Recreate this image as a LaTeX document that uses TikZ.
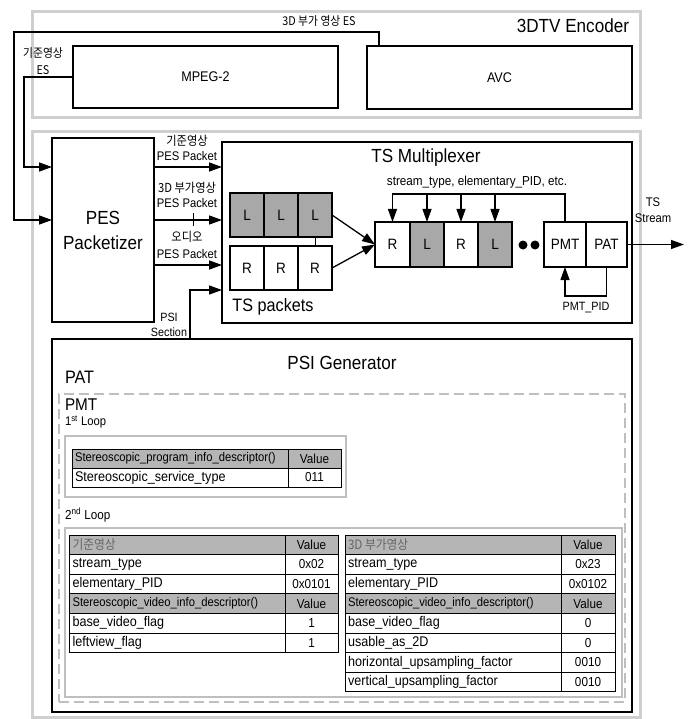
\documentclass[tikz,border=0pt]{standalone}
\usepackage{fontspec}
\setmainfont{Liberation Sans}[FakeStretch=0.9]
\newfontfamily\kr{Noto Sans CJK KR}[FakeStretch=0.9]
\usetikzlibrary{arrows.meta}
\newcommand{\fz}[1]{\fontsize{#1}{#1}\selectfont}
\newcommand{\tabrow}[9]{%
  \node[cell,#6,minimum width=#4] (#1a) at (#2,#3) {};
  \node[anchor=west,font=\fz{#9}] (#1t) at ([xshift=3pt]#1a.west) {#7};
  \node[cell,#6,minimum width=#5,font=\fz{13}] (#1b) at (#2+#4,#3) {#8};
}
\begin{document}
\begin{tikzpicture}[x=1pt,y=-1pt,
  every node/.style={inner sep=0pt,outer sep=0pt},
  gframe/.style={draw=gray!38,line width=3pt},
  gbox/.style={draw=gray!50,line width=2pt},
  dbox/.style={draw=gray!50,line width=2pt,dash pattern=on 10pt off 5pt},
  blk/.style={draw=black,line width=1.3pt},
  arr/.style={line width=1.3pt,-{Triangle[length=13pt,width=9pt]}},
  cell/.style={draw=black,line width=1pt,minimum height=19.6pt,anchor=north west},
  hd/.style={fill=gray!58},
  pkt/.style={blk,minimum width=34pt,minimum height=44pt,anchor=north west,font=\fz{15}},
  dark/.style={fill=gray!68},
]
\useasboundingbox (0,0) rectangle (693,719);

% gray frames
\node[gframe,minimum width=608,minimum height=106,anchor=north west] (encf) at (32,12) {};
\node[gframe,minimum width=608,minimum height=585,anchor=north west] (sysf) at (32,132) {};

% ---------- encoder ----------
\node[anchor=east,font=\fz{19}] (enct) at (629,26) {3DTV Encoder};
\node[blk,minimum width=265,minimum height=62,anchor=north west,font=\fz{14}] (mpeg) at (73,46) {MPEG-2};
\node[blk,minimum width=265,minimum height=63,anchor=north west,font=\fz{14}] (avc) at (367,46) {AVC};
\node[font=\kr\fz{12}] (l3des) at (319,21) {3D 부가 영상 ES};
\node[align=center,font=\kr\fontsize{12}{17}\selectfont] (lbasees) at (43,61.5) {기준영상\\ES};

% ---------- PES packetizer ----------
\node[blk,minimum width=102,minimum height=184,anchor=north west,align=center,font=\fontsize{19}{25}\selectfont] (pes) at (52,138) {PES\\Packetizer};

\coordinate (t1) at (379,32);
\coordinate (c3) at (14,220);
\coordinate (c4) at (24,167);
\draw[arr] (t1 |- avc.north) -- (t1) -| (c3) -- (c3 -| pes.west);
\draw[arr] (mpeg.west) -| (c4) -- (c4 -| pes.west);

% ---------- TS multiplexer ----------
\node[blk,minimum width=410,minimum height=181,anchor=north west] (mux) at (222,142) {};
\node[font=\fz{19}] (muxt) at (426,158) {TS Multiplexer};

\coordinate (ya) at (0,265);
\draw[arr] (pes.east |- c4) -- (mux.west |- c4);
\draw[arr] (pes.east |- c3) -- (mux.west |- c3);
\draw[arr] (pes.east |- ya) -- (mux.west |- ya);
\draw[line width=1pt] (193,213) -- (193,226);

\node[align=center,font=\fontsize{12.5}{15}\selectfont] (lp1) at (187,147.5) {{\kr 기준영상}\\PES Packet};
\node[align=center,font=\fontsize{12.5}{15}\selectfont] (lp2) at (187,194.5) {{\kr 3D 부가영상}\\PES Packet};
\node[align=center,font=\fontsize{12.5}{17}\selectfont] (lp3) at (187,244.5) {{\kr 오디오}\\PES Packet};

% TS packets
\node[pkt,dark] (L1) at (230,193) {L};
\node[pkt,dark] (L2) at (264,193) {L};
\node[pkt,dark] (L3) at (298,193) {L};
\node[pkt] (R1) at (230,246) {R};
\node[pkt] (R2) at (264,246) {R};
\node[pkt] (R3) at (298,246) {R};
\draw[line width=1pt] (L3.south) -- (R3.north);
\node[font=\fz{18}] (tsp) at (273,307) {TS packets};

% multiplexed stream
\node[pkt,minimum height=45,minimum width=35] (C1) at (375,222) {R};
\node[pkt,dark,minimum height=45] (C2) at (410,222) {L};
\node[pkt,minimum height=45] (C3) at (444,222) {R};
\node[pkt,dark,minimum height=45] (C4) at (478,222) {L};
\node[circle,fill=black,minimum size=9pt] (d1) at (523,245) {};
\node[circle,fill=black,minimum size=9pt] (d2) at (535,245) {};
\node[pkt,minimum height=45,minimum width=42] (PMT) at (544,222) {PMT};
\node[pkt,minimum height=45,minimum width=41] (PAT) at (586,222) {PAT};

\draw[arr] (L3.east) -- (C1.west);
\draw[arr] (R3.east) -- (C1.west);

\coordinate (busy) at (0,194);
\draw[arr] (PMT.north) -- (PMT.north |- busy) -| (C1.north);
\draw[arr] (C2.north |- busy) -- (C2.north);
\draw[arr] (C3.north |- busy) -- (C3.north);
\draw[arr] (C4.north |- busy) -- (C4.north);
\node[font=\fz{13}] (lst) at (477,182) {stream\_type, elementary\_PID, etc.};

\coordinate (py) at (0,296);
\draw[arr] (PAT.south) -- (PAT.south |- py) -| (PMT.south);
\node[font=\fz{12}] (lpid) at (586,308) {PMT\_PID};

\coordinate (tsend) at (684,244.5);
\draw[arr] (PAT.east) -- (tsend);
\node[align=center,font=\fontsize{12.5}{16}\selectfont] (lts) at (653,210) {TS\\Stream};

% ---------- PSI generator ----------
\node[blk,minimum width=580,minimum height=373,anchor=north west] (psi) at (52,339) {};
\node[font=\fz{19}] (psit) at (342,363) {PSI Generator};
\coordinate (ps) at (190,290);
\draw[arr] (psi.north -| ps) -- (ps) -- (ps -| mux.west);
\node[align=center,font=\fontsize{12}{15}\selectfont] (lpsi) at (169,324.5) {PSI\\Section};

\node[dbox,minimum width=566,minimum height=308,anchor=north west] (patb) at (59,394) {};
\node[anchor=west,font=\fz{18}] (patl) at (65,377) {PAT};
\node[anchor=west,font=\fz{17}] (pmtl) at (65,405) {PMT};
\node[anchor=west,font=\fz{12.5}] (loop1l) at (65,422) {1\textsuperscript{st} Loop};

\node[gbox,minimum width=281,minimum height=61,anchor=north west] (loop1) at (65,436) {};
\tabrow{ta}{72}{449}{216}{53}{hd,minimum height=19}{Stereoscopic\_program\_info\_descriptor()}{Value}{12.5}
\tabrow{tb}{72}{468}{216}{53}{minimum height=19}{Stereoscopic\_service\_type}{011}{14}

\node[anchor=west,font=\fz{13}] (loop2l) at (65,515) {2\textsuperscript{nd} Loop};
\node[gbox,minimum width=557,minimum height=169,anchor=north west] (loop2) at (65,528) {};

% left table
\tabrow{la1}{69.5}{535}{215.5}{53}{hd}{{\kr\color{black!60}기준영상}}{Value}{13}
\tabrow{la2}{69.5}{554.6}{215.5}{53}{}{stream\_type}{0x02}{14}
\tabrow{la3}{69.5}{574.2}{215.5}{53}{}{elementary\_PID}{0x0101}{14}
\tabrow{la4}{69.5}{593.8}{215.5}{53}{hd}{Stereoscopic\_video\_info\_descriptor()}{Value}{12.5}
\tabrow{la5}{69.5}{613.4}{215.5}{53}{}{base\_video\_flag}{1}{14}
\tabrow{la6}{69.5}{633}{215.5}{53}{}{leftview\_flag}{1}{14}

% right table
\tabrow{ra1}{345}{535}{216}{54}{hd}{{\kr\color{black!60}3D 부가영상}}{Value}{13}
\tabrow{ra2}{345}{554.6}{216}{54}{}{stream\_type}{0x23}{14}
\tabrow{ra3}{345}{574.2}{216}{54}{}{elementary\_PID}{0x0102}{14}
\tabrow{ra4}{345}{593.8}{216}{54}{hd}{Stereoscopic\_video\_info\_descriptor()}{Value}{12.5}
\tabrow{ra5}{345}{613.4}{216}{54}{}{base\_video\_flag}{0}{14}
\tabrow{ra6}{345}{633}{216}{54}{}{usable\_as\_2D}{0}{14}
\tabrow{ra7}{345}{652.6}{216}{54}{}{horizontal\_upsampling\_factor}{0010}{14}
\tabrow{ra8}{345}{672.2}{216}{54}{}{vertical\_upsampling\_factor}{0010}{14}
\end{tikzpicture}
\end{document}
